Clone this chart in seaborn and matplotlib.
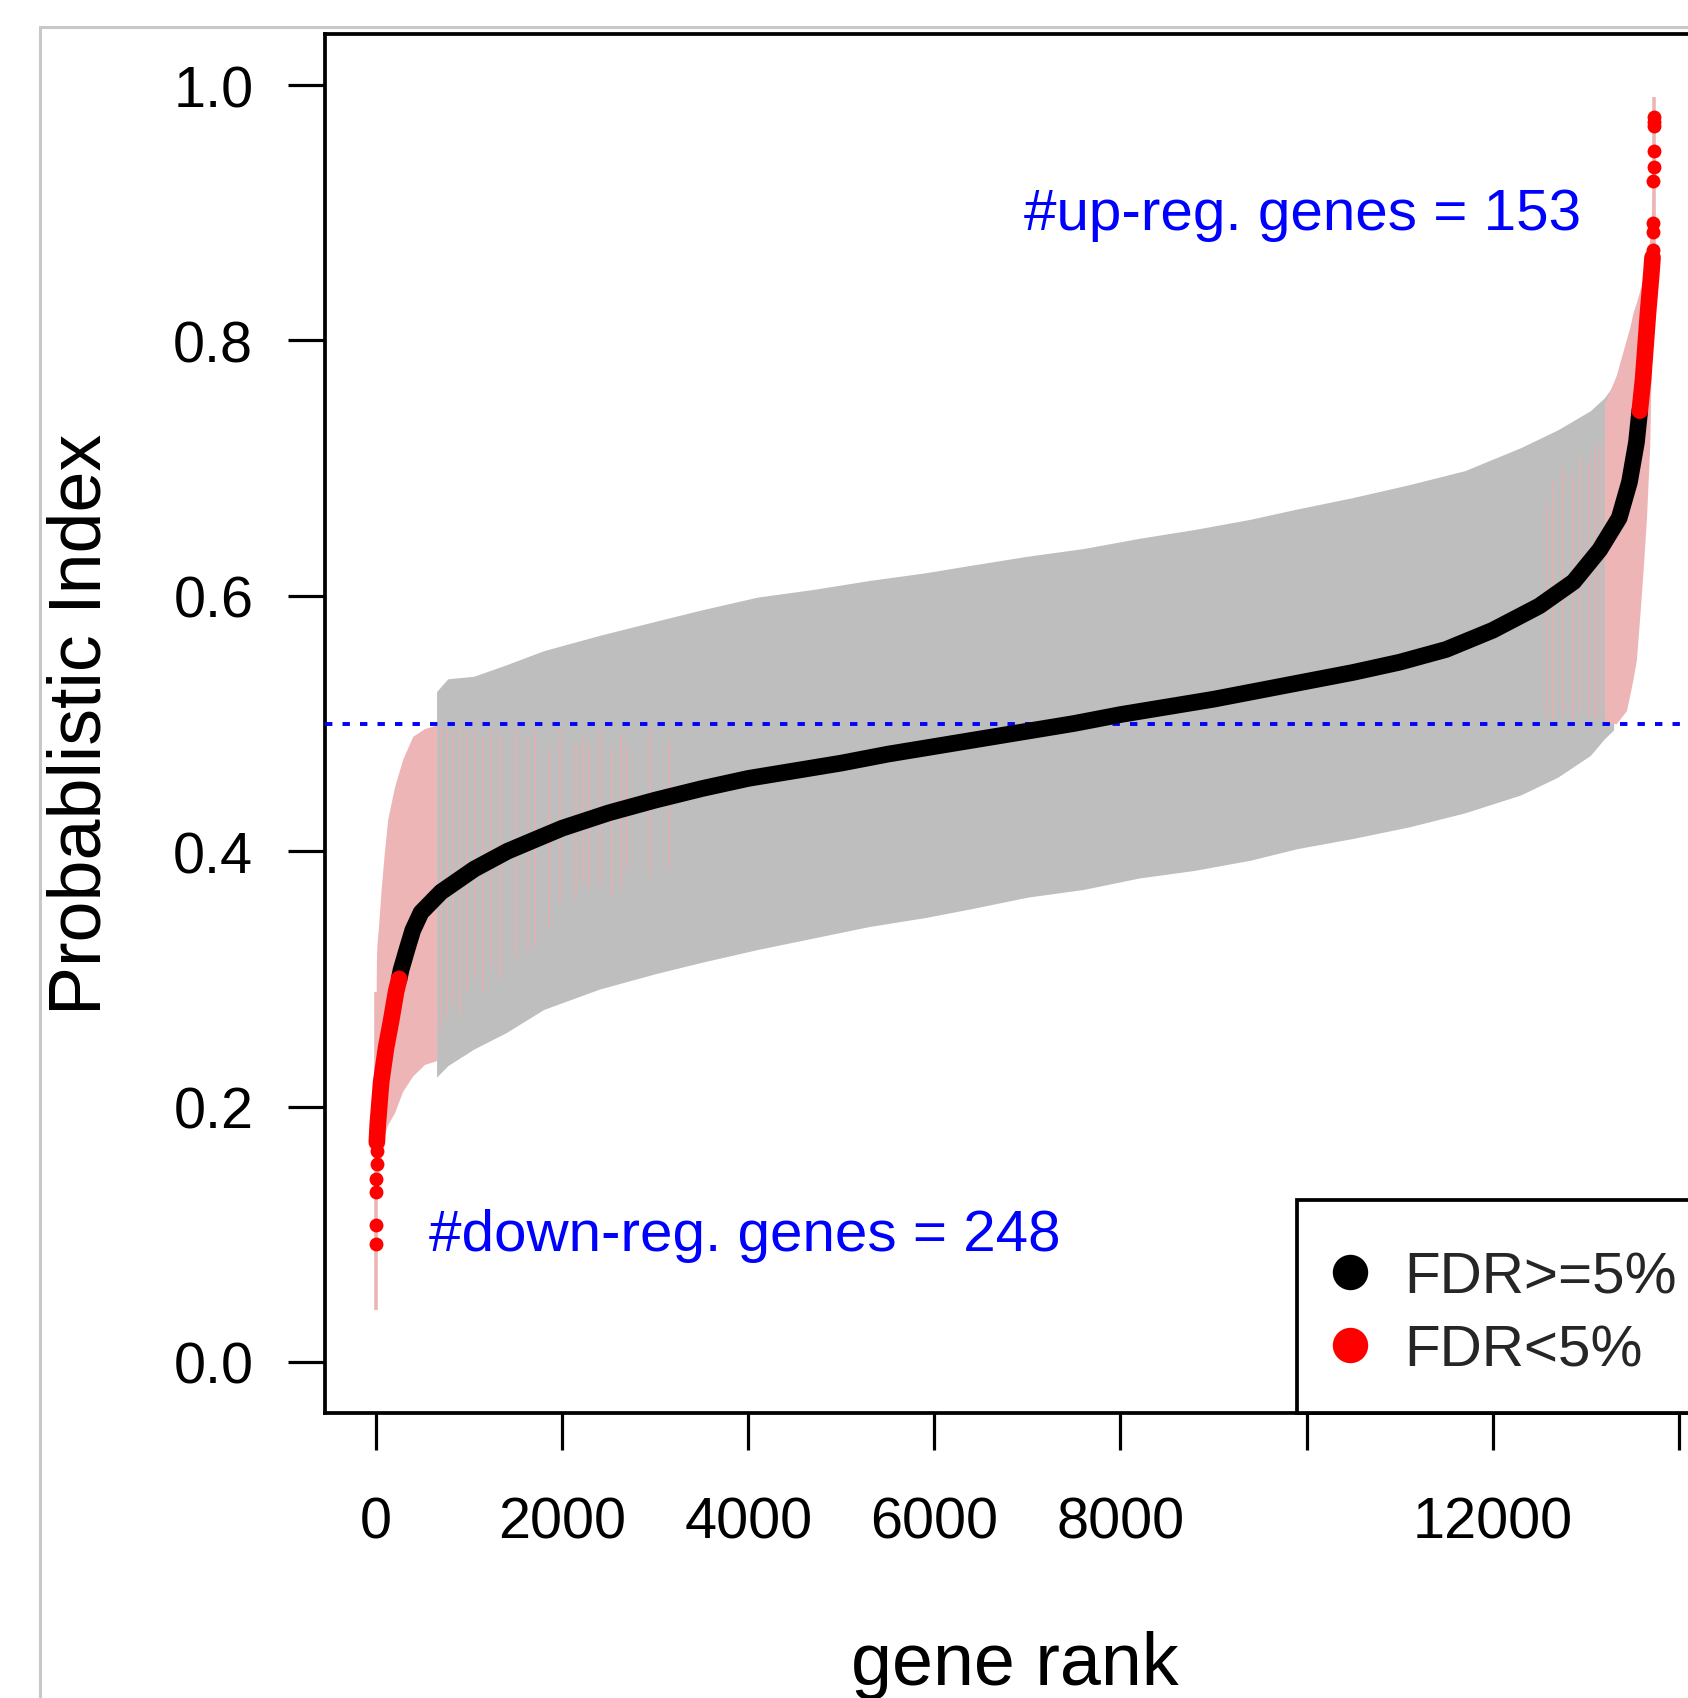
import numpy as np
import pandas as pd
import matplotlib
matplotlib.use("Agg")
import matplotlib.pyplot as plt
from matplotlib.lines import Line2D
from matplotlib.patches import Rectangle
import seaborn as sns

# ---------------- data ----------------
N_GENES = 13733
N_DOWN = 248
N_UP = 153

# estimated probabilistic index of ranked genes (continuous part of curve)
curve_rank = [8, 18, 54, 107, 161, 215, 248, 268, 340, 394, 483, 698, 1055, 1413,
              1771, 2000, 2500, 3000, 3500, 4000, 4500, 5000, 5500, 6000, 6500,
              7000, 7500, 8000, 8500, 9000, 9500, 10000, 10500, 11000, 11500,
              12000, 12500, 12870, 13150, 13360, 13470, 13545, 13581, 13617,
              13670, 13706, 13718]
curve_pi = [0.172, 0.186, 0.219, 0.246, 0.267, 0.290, 0.300, 0.307, 0.325, 0.338,
            0.352, 0.368, 0.386, 0.400, 0.411, 0.418, 0.430, 0.440, 0.449, 0.457,
            0.463, 0.469, 0.476, 0.482, 0.488, 0.494, 0.500, 0.507, 0.513, 0.519,
            0.526, 0.533, 0.540, 0.548, 0.558, 0.573, 0.592, 0.611, 0.636, 0.661,
            0.689, 0.720, 0.745, 0.770, 0.822, 0.853, 0.865]

# isolated extreme genes (drawn as single dots)
dot_rank = [1, 2, 3, 4, 5, 6, 13725, 13726, 13727, 13728, 13729, 13730, 13731, 13732, 13733]
dot_pi = [0.092, 0.107, 0.133, 0.143, 0.155, 0.165, 0.871, 0.885, 0.892, 0.925,
          0.936, 0.948, 0.968, 0.971, 0.975]

# confidence band of genes whose interval contains 0.5 (gray)
gray_rank = [650, 770, 1050, 1400, 1800, 2400, 3000, 3500, 4100, 4700, 5300, 5900,
             6400, 7000, 7600, 8200, 8800, 9400, 9900, 10500, 11100, 11700, 12300,
             12700, 13050, 13200, 13300]
gray_upper = [0.525, 0.535, 0.537, 0.546, 0.557, 0.569, 0.580, 0.589, 0.599, 0.605,
              0.612, 0.618, 0.624, 0.631, 0.637, 0.645, 0.652, 0.660, 0.668, 0.677,
              0.687, 0.698, 0.716, 0.730, 0.745, 0.755, 0.765]
gray_lower = [0.223, 0.232, 0.245, 0.258, 0.276, 0.292, 0.304, 0.313, 0.323, 0.332,
              0.341, 0.348, 0.355, 0.364, 0.370, 0.379, 0.385, 0.393, 0.402, 0.410,
              0.419, 0.430, 0.444, 0.458, 0.475, 0.488, 0.495]

# confidence band of genes whose interval excludes 0.5 (pink), low end
pinkL_rank = [1, 2, 3, 5, 10, 25, 54, 90, 125, 197, 286, 394, 520, 650]
pinkL_upper = [0.290, 0.300, 0.310, 0.320, 0.328, 0.340, 0.370, 0.400, 0.425, 0.450,
               0.472, 0.490, 0.496, 0.499]
pinkL_lower = [0.041, 0.060, 0.090, 0.120, 0.135, 0.145, 0.160, 0.178, 0.186, 0.195,
               0.212, 0.224, 0.233, 0.236]

# high end
pinkH_rank = [13200, 13330, 13437, 13473, 13509, 13545, 13581, 13617, 13653, 13688,
              13706, 13724, 13733]
pinkH_upper = [0.750, 0.773, 0.801, 0.810, 0.822, 0.830, 0.839, 0.848, 0.857, 0.880,
               0.900, 0.927, 0.991]
pinkH_lower = [0.500, 0.500, 0.510, 0.522, 0.535, 0.550, 0.584, 0.620, 0.661, 0.717,
               0.787, 0.820, 0.850]

# single pink intervals scattered inside the gray band
line_rank = [700, 760, 830, 900, 980, 1060, 1150, 1240, 1330, 1505, 1630, 1710, 1860,
             1980, 2145, 2225, 2290, 2410, 2535, 2635, 2695, 2945, 3150,
             12580, 12650, 12760, 12865, 12940, 13040, 13100, 13150]
line_lower = [0.26, 0.27, 0.28, 0.27, 0.29, 0.30, 0.29, 0.31, 0.30, 0.316, 0.322,
              0.326, 0.339, 0.360, 0.363, 0.376, 0.370, 0.372, 0.366, 0.370, 0.386,
              0.380, 0.386,
              0.505, 0.503, 0.506, 0.503, 0.508, 0.505, 0.503, 0.506]
line_upper = [0.498, 0.497, 0.495, 0.498, 0.494, 0.496, 0.490, 0.497, 0.493, 0.496,
              0.488, 0.494, 0.480, 0.495, 0.485, 0.492, 0.483, 0.495, 0.480, 0.492,
              0.485, 0.495, 0.488,
              0.672, 0.690, 0.700, 0.695, 0.710, 0.705, 0.715, 0.720]

x_ticks = [0, 2000, 4000, 6000, 8000, 10000, 12000, 14000]
x_tick_labels = ["0", "2000", "4000", "6000", "8000", "", "12000", ""]
y_ticks = [0.0, 0.2, 0.4, 0.6, 0.8, 1.0]
y_tick_labels = ["0.0", "0.2", "0.4", "0.6", "0.8", "1.0"]

up_label = "#up-reg. genes = %d" % N_UP
down_label = "#down-reg. genes = %d" % N_DOWN
legend_labels = ["FDR>=5%", "FDR<5%"]

# ---------------- styling ----------------
sns.set_theme(style="white")
plt.rcParams["font.family"] = ["Liberation Sans", "DejaVu Sans"]

GRAY = "#BEBEBE"
PINK = "#EDB5B5"
PINK_LINE = "#DDB2B2"
RED = "#FF0000"
BLUE = "#0000FF"
FS = 42

W, H = 1688, 1699
fig = plt.figure(figsize=(W / 100, H / 100), dpi=100)
fig.patch.set_facecolor("white")
ax = fig.add_axes([325 / W, 285 / H, 1380 / W, 1379 / H])
ax.set_facecolor("white")

# bands
ax.fill_between(gray_rank, gray_lower, gray_upper, color=GRAY, lw=0, zorder=1)
ax.fill_between(pinkL_rank, pinkL_lower, pinkL_upper, color=PINK, lw=0, zorder=2)
ax.fill_between(pinkH_rank, pinkH_lower, pinkH_upper, color=PINK, lw=0, zorder=2)
ax.vlines(line_rank, line_lower, line_upper, color=PINK_LINE, lw=1.4, zorder=2)
# the most extreme genes' intervals (thin single bars at both ends)
ax.vlines([pinkL_rank[0], pinkH_rank[-1]], [pinkL_lower[0], pinkH_lower[-1]],
          [pinkL_upper[0], pinkH_upper[-1]], color=PINK, lw=2.6, zorder=2)

# reference line
ax.axhline(0.5, color=BLUE, lw=2.8, dashes=(1.9, 2.6), zorder=3)

# curve
df = pd.DataFrame({"rank": curve_rank, "pi": curve_pi})
lo = df[df["rank"] <= N_DOWN]
mid = df[(df["rank"] >= N_DOWN) & (df["rank"] <= N_GENES - N_UP + 1)]
hi = df[df["rank"] >= N_GENES - N_UP + 1]
LW = 12
sns.lineplot(data=mid, x="rank", y="pi", ax=ax, color="black", lw=LW, sort=False,
             estimator=None, solid_capstyle="round", zorder=4)
for part in (lo, hi):
    sns.lineplot(data=part, x="rank", y="pi", ax=ax, color=RED, lw=LW, sort=False,
                 estimator=None, solid_capstyle="round", zorder=5)
dots = pd.DataFrame({"rank": dot_rank, "pi": dot_pi})
sns.scatterplot(data=dots, x="rank", y="pi", ax=ax, color=RED, s=100, linewidth=0,
                zorder=6)

# axes
ax.set_xlim(-549, 14282)
ax.set_ylim(-0.04, 1.04)
ax.set_xticks(x_ticks)
ax.set_xticklabels(x_tick_labels)
ax.set_yticks(y_ticks)
ax.set_yticklabels(y_tick_labels)
ax.tick_params(axis="both", direction="out", length=26.6, width=2.3, color="black",
               labelsize=41.5, labelcolor="black")
ax.tick_params(axis="x", pad=33, bottom=True)
ax.tick_params(axis="y", pad=25, left=True)
for sp in ax.spines.values():
    sp.set_visible(True)
    sp.set_color("black")
    sp.set_linewidth(2.7)
ax.grid(False)

ax.set_xlabel("gene rank", fontsize=53, color="black", va="baseline")
ax.xaxis.set_label_coords(0.5, -0.1965)
ax.set_ylabel("Probablistic Index", fontsize=53, color="black", va="baseline")
ax.yaxis.set_label_coords(-0.163, 0.5)

# annotations
ax.text(6967, 0.899, up_label, color=BLUE, fontsize=FS, ha="left", va="center")
ax.text(569, 0.0995, down_label, color=BLUE, fontsize=FS, ha="left", va="center")

# legend (box drawn in the bottom-right corner of the plot)
ax.add_patch(Rectangle((0.7043, 0.0), 0.2957, 0.1541, transform=ax.transAxes,
                       facecolor="white", edgecolor="black", lw=2.7, zorder=9,
                       clip_on=False))
handles = [Line2D([], [], ls="none", marker="o", markersize=25.5,
                  markerfacecolor="black", markeredgewidth=0),
           Line2D([], [], ls="none", marker="o", markersize=25.5,
                  markerfacecolor=RED, markeredgewidth=0)]
leg = ax.legend(handles, legend_labels, loc="center left",
                bbox_to_anchor=(0.730, 0.0718), fontsize=FS, frameon=False,
                borderpad=0, handlelength=0.6, handletextpad=0.63,
                labelspacing=0.325, borderaxespad=0)
leg.set_zorder(10)

# outer light frame
fig.add_artist(Line2D([40 / W, 40 / W], [0, 1 - 28 / H], transform=fig.transFigure,
                      color="#C8C8C8", lw=2.2))
fig.add_artist(Line2D([40 / W, 1], [1 - 28 / H, 1 - 28 / H], transform=fig.transFigure,
                      color="#C8C8C8", lw=2.2))

fig.savefig("out.png", dpi=100, facecolor="white")
